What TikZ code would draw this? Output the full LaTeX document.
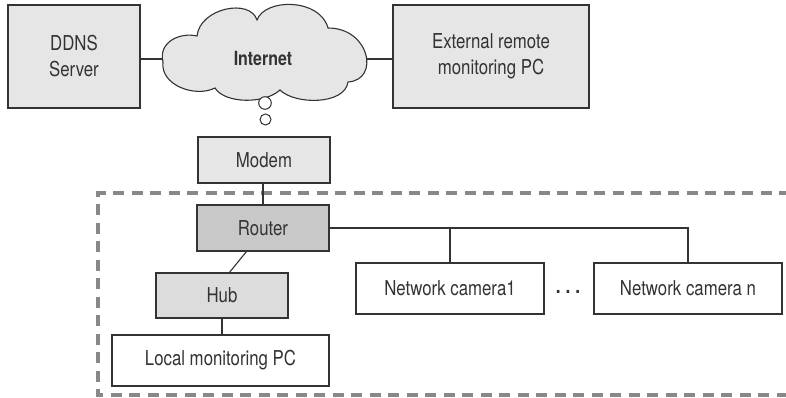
\documentclass[tikz,border=0pt]{standalone}
\usepackage{fontspec}
\setmainfont{TeX Gyre Heros}[FakeStretch=0.82]
\usetikzlibrary{calc}
\definecolor{ink}{HTML}{333333}
\definecolor{lightfill}{HTML}{E6E6E6}
\definecolor{hubfill}{HTML}{DCDCDC}
\definecolor{routerfill}{HTML}{C8C8C8}
\definecolor{dashgray}{HTML}{888888}
\tikzset{
  box/.style={draw=ink, line width=1.1pt, inner sep=0pt, align=center,
    text=ink, font=\fontsize{20.5}{26}\selectfont},
  conn/.style={draw=ink, line width=1.1pt},
}
\begin{document}
\begin{tikzpicture}[x=1pt,y=-1pt]
\useasboundingbox (0,0) rectangle (786,398);
% dashed enclosure (right side beyond the picture edge)
\draw[dashgray, line width=3.5pt, dash pattern=on 11pt off 7.5pt]
  (790,193) -- (98,193) -- (98,395) -- (790,395);
% cloud
\draw[ink, fill=lightfill, line width=1.1pt]
  (163,62) .. controls (158,42) and (180,32) .. (197,36)
  .. controls (200,8) and (250,-2) .. (257,20)
  .. controls (265,-2) and (320,-2) .. (328,28)
  .. controls (370,28) and (380,80) .. (348,82)
  .. controls (345,105) and (295,105) .. (280,90)
  .. controls (265,104) and (225,104) .. (215,88)
  .. controls (195,98) and (160,85) .. (163,62) -- cycle;
\coordinate (cl) at (162.5,59);
\coordinate (cr) at (366,59);
\node[text=ink, font=\fontsize{19.5}{22}\selectfont\bfseries] (inet) at (263,58) {Internet};
\draw[ink, fill=white, line width=1pt] (265,103) circle (6.3);
\draw[ink, fill=white, line width=1pt] (265.5,119.5) circle (5.5);
% boxes
\node[box, fill=lightfill, minimum width=132, minimum height=103] (ddns) at (74,56.5) {DDNS\\Server};
\node[box, fill=lightfill, minimum width=196, minimum height=103] (ext) at (491,56.5) {External remote\\monitoring PC};
\node[box, fill=lightfill, minimum width=132, minimum height=46] (modem) at (264,160) {Modem};
\node[box, fill=routerfill, minimum width=132, minimum height=46] (router) at (263,228) {Router};
\node[box, fill=hubfill, minimum width=132, minimum height=45] (hub) at (222,295.5) {Hub};
\node[box, fill=white, minimum width=217, minimum height=51] (local) at (220.5,360.5) {Local monitoring PC};
\node[box, fill=white, minimum width=188, minimum height=51] (cam1) at (450,288.5) {Network camera1};
\node[box, fill=white, minimum width=188, minimum height=51] (camn) at (688,288.5) {Network camera n};
\node[text=ink, anchor=base, inner sep=0pt, font=\fontsize{21}{22}\selectfont\bfseries] (dots) at (568,293) {.\hspace{5pt}.\hspace{5pt}.};
% connectors
\draw[conn] (cl) -- (cl -| ddns.east);
\draw[conn] (cr) -- (cr -| ext.west);
\draw[conn] (modem.south -| router.north) -- (router.north);
\draw[conn] (router.east) -- (camn.north |- router.east) -- (camn.north);
\draw[conn] (cam1.north |- router.east) -- (cam1.north);
\draw[conn] ([xshift=50pt]router.south west) -- ([xshift=74pt]hub.north west);
\draw[conn] (hub.south) -- (hub.south |- local.north);
\end{tikzpicture}
\end{document}
